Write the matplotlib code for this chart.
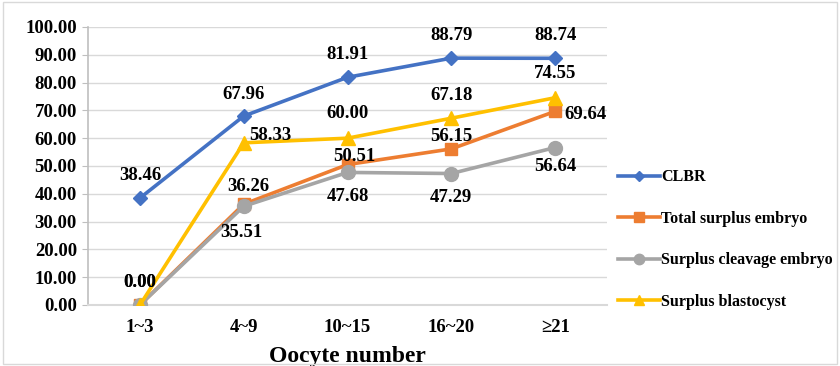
import matplotlib.pyplot as plt
import numpy as np

plt.rcParams['font.family'] = ['Liberation Serif', 'DejaVu Serif']
plt.rcParams['font.weight'] = 'bold'

kategorie = ["1~3", "4~9", "10~15", "16~20", "≥21"]
clbr = [38.46, 67.96, 81.91, 88.79, 88.74]
total_surplus = [0.00, 36.26, 50.51, 56.15, 69.64]
cleavage = [0.00, 35.51, 47.68, 47.29, 56.64]
blastocyst = [0.00, 58.33, 60.00, 67.18, 74.55]
nazwy = ["CLBR", "Total surplus embryo", "Surplus cleavage embryo", "Surplus blastocyst"]
kolory = ["#4472C4", "#ED7D31", "#A5A5A5", "#FFC000"]
markery = ["D", "s", "o", "^"]
rozmiary = [7, 9, 10, 10]

fig = plt.figure(figsize=(8.4, 3.66), dpi=100)
ax = fig.add_axes([0.1048, 0.1667, 0.6179, 0.7596])
x = np.arange(len(kategorie))

serie = [clbr, total_surplus, cleavage, blastocyst]
for i in range(4):
    ax.plot(x, serie[i], color=kolory[i], marker=markery[i], markersize=rozmiary[i],
            linewidth=2.6, label=nazwy[i], zorder=3 + i)

# etykiety: (dx, dy) w pikselach dla kazdego punktu
pozycje = {
    0: [(0, 23), (0, 22), (0, 23), (0, 23), (0, 23)],
    1: [(0, 22), (5, 18), (7, 8), (0, 12), (30, -3)],
    2: [None, (-2, -26), (0, -24), (0, -24), (0, -19)],
    3: [(0, 22), (27, 7), (0, 25), (0, 23), (0, 24)],
}
for i in range(4):
    for j in range(len(kategorie)):
        p = pozycje[i][j]
        if p is None:
            continue
        ax.annotate("%.2f" % serie[i][j], (x[j], serie[i][j]), xytext=(p[0] * 0.72, p[1] * 0.72),
                    textcoords="offset points", ha="center", va="center",
                    fontsize=13.5, fontweight="bold", zorder=10)

ax.set_xlim(-0.5, 4.5)
ax.set_ylim(0, 100)
ax.set_yticks(np.arange(0, 101, 10))
ax.set_yticklabels(["%.2f" % v for v in np.arange(0, 101, 10)])
ax.set_xticks(x)
ax.set_xticklabels(kategorie)
ax.tick_params(axis="y", labelsize=13.5, length=4, color="#BFBFBF", pad=4)
ax.tick_params(axis="x", labelsize=13.5, length=0, pad=10)
ax.grid(axis="y", color="#D9D9D9", linewidth=1)
ax.set_axisbelow(True)
for s in ["top", "right"]:
    ax.spines[s].set_visible(False)
ax.spines["left"].set_color("#BFBFBF")
ax.spines["bottom"].set_color("#D9D9D9")
ax.spines["left"].set_linewidth(1.2)
ax.spines["bottom"].set_linewidth(1.5)
ax.set_xlabel("Oocyte number", fontsize=17, fontweight="bold", labelpad=7)

leg = ax.legend(loc="center left", bbox_to_anchor=(1.0, 0.235), frameon=False,
                prop={"weight": "bold", "size": 11.5}, labelspacing=1.6,
                handlelength=2.6, handletextpad=0.1, borderaxespad=0.3, markerscale=0.75)

# ramka wokol calego rysunku
fig.patches.append(plt.Rectangle((0.004, 0.005), 0.992, 0.99, transform=fig.transFigure,
                                 fill=False, edgecolor="#D9D9D9", linewidth=1))

fig.savefig("out.png", dpi=100)
